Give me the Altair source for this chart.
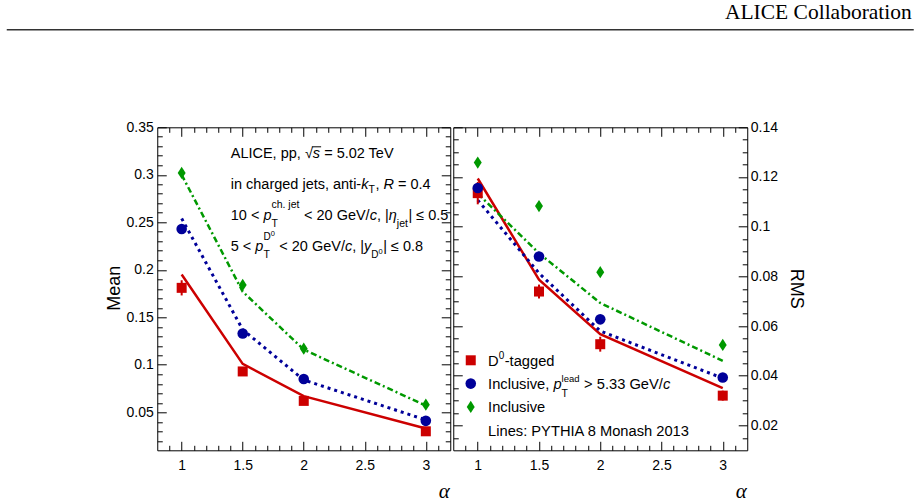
import altair as alt
import pandas as pd

# ---------------- data ----------------
alpha = [1.0, 1.5, 2.0, 3.0]

mean_d0 = [0.181, 0.093, 0.062, 0.030]
mean_d0_err = [0.008, 0.003, 0.003, 0.002]
mean_lead = [0.243, 0.133, 0.085, 0.041]
mean_incl = [0.302, 0.184, 0.117, 0.058]
mean_py_d0 = [0.195, 0.101, 0.067, 0.033]
mean_py_lead = [0.254, 0.137, 0.084, 0.042]
mean_py_incl = [0.300, 0.177, 0.116, 0.057]

rms_d0 = [0.1135, 0.0739, 0.0527, 0.0320]
rms_d0_err = [0.0045, 0.0028, 0.0030, 0.0020]
rms_lead = [0.1156, 0.0880, 0.0627, 0.0393]
rms_incl = [0.1258, 0.1083, 0.0817, 0.0524]
rms_py_d0 = [0.1194, 0.0787, 0.0567, 0.0350]
rms_py_lead = [0.1107, 0.0813, 0.0580, 0.0390]
rms_py_incl = [0.1133, 0.0893, 0.0693, 0.0460]

# tick values
x_major = [1, 1.5, 2, 2.5, 3]
x_minor = [0.9, 1.1, 1.2, 1.3, 1.4, 1.6, 1.7, 1.8, 1.9, 2.1, 2.2, 2.3, 2.4,
           2.6, 2.7, 2.8, 2.9, 3.1]
mean_major = [0.05, 0.1, 0.15, 0.2, 0.25, 0.3, 0.35]
mean_minor = [round(k / 100, 2) for k in range(2, 35) if k % 5]
rms_major = [0.02, 0.04, 0.06, 0.08, 0.1, 0.12, 0.14]
rms_minor = [round(k / 1000, 3) for k in range(15, 140, 5) if k % 20]

FONT = "Liberation Sans"
SERIF = "Liberation Serif"
RED, BLUE, GREEN = "#cc0000", "#000099", "#009900"

WL, WR, H = 293, 294, 323
XDOM = [0.8, 3.2]
XS = alt.Scale(domain=XDOM, nice=False, zero=False)

# ---------------- rich-text layout helper ----------------
CW = {' ': 278, ',': 278, '.': 278, '-': 333, '/': 278, ':': 278, '|': 260,
      '<': 584, '>': 584, '=': 584, '≤': 549, '√': 549, 'η': 556,
      'A': 667, 'C': 722, 'D': 722, 'E': 667, 'G': 778, 'H': 722, 'I': 278,
      'L': 556, 'M': 833, 'P': 667, 'R': 722, 'S': 667, 'T': 611, 'V': 667,
      'Y': 667, 'a': 556, 'b': 556, 'c': 500, 'd': 556, 'e': 556, 'g': 556,
      'h': 556, 'i': 222, 'j': 222, 'k': 500, 'l': 222, 'n': 556, 'o': 556,
      'p': 556, 'r': 333, 's': 500, 't': 278, 'u': 556, 'v': 500, 'y': 500}


def tw(s, fs):
    return sum(CW.get(c, 556) for c in s) / 1000.0 * fs


def seg(out, text, x, y, fs, it):
    lead = len(text) - len(text.lstrip(' '))
    t = text.strip(' ')
    if t:
        out.append(dict(text=t, x=x + tw(' ' * lead, fs), y=y, size=fs, it=it))
    return x + tw(text, fs)


def layout(parts, x0, base, fs, sup_dy, sub_dy):
    out = []
    x = x0
    for p in parts:
        if p[0] in ('n', 'i'):
            x = seg(out, p[1], x, base, fs, p[0] == 'i')
        else:
            wmax = 0
            for lst, dy in ((p[1], sup_dy), (p[2], sub_dy)):
                xx = x
                for (t, ddy, s) in lst:
                    xx = seg(out, t, xx, base + dy + ddy, s, False)
                wmax = max(wmax, xx - x)
            x += wmax + 0.5
    return out


F, FS, FSS = 14.5, 10.5, 7.5
TX0 = 73.5
info = []
info += layout([('n', 'ALICE, pp, '), ('n', '√'), ('i', 's'), ('n', ' = 5.02 TeV')],
               TX0, 31, F, -12, 7)
info += layout([('n', 'in charged jets, anti-'), ('i', 'k'), ('st', [], [('T', 0, FS)]),
                ('n', ', '), ('i', 'R'), ('n', ' = 0.4')], TX0, 62, F, -12, 4)
info += layout([('n', '10 < '), ('i', 'p'),
                ('st', [('ch. jet', 0, FS)], [('T', 0, FS)]),
                ('n', ' < 20 GeV/'), ('i', 'c'), ('n', ', |'), ('i', 'η'),
                ('st', [], [('jet', 0, FS)]), ('n', '| ≤ 0.5')], TX0, 93, F, -12, 7)
info += layout([('n', '5 < '), ('i', 'p'),
                ('st', [('D', 0, 10), ('0', -4, FSS)], [('T', 0, FS)]),
                ('n', ' < 20 GeV/'), ('i', 'c'), ('n', ', |'), ('i', 'y'),
                ('st', [], [('D', 0, 10), ('0', -4, FSS)]), ('n', '| ≤ 0.8')],
               TX0, 124, F, -11, 7)

# overline of the square root (over the italic s)
sq_x0 = TX0 + tw('ALICE, pp, ', F) + tw('√', F) - 1.0
sq_x1 = sq_x0 + tw('s', F) + 2.0

FL = 14.7
leg = []
leg += layout([('n', 'D'), ('st', [('0', 0, 10)], []), ('n', '-tagged')],
              34.8, 238.3, FL, -6.7, 8)
leg += layout([('n', 'Inclusive, '), ('i', 'p'),
               ('st', [('lead', 0, 9.5)], [('T', 0, FS)]),
               ('n', ' > 5.33 GeV/'), ('i', 'c')], 34.8, 261.6, FL, -6.6, 8.4)
leg += layout([('n', 'Inclusive')], 34.8, 285.0, FL, 0, 0)
leg += layout([('n', 'Lines: PYTHIA 8 Monash 2013')], 34.8, 308.3, FL, 0, 0)

dummy = pd.DataFrame({'k': [0]})


def text_layers(items):
    df = pd.DataFrame(items)
    layers = []
    for it, style in ((False, 'normal'), (True, 'italic')):
        sub = df[df['it'] == it]
        if len(sub):
            layers.append(
                alt.Chart(sub).mark_text(align='left', baseline='alphabetic', font=FONT,
                                         fontStyle=style, color='black').encode(
                    x=alt.X('x:Q', scale=None, axis=None),
                    y=alt.Y('y:Q', scale=None, axis=None),
                    size=alt.Size('size:Q', scale=None, legend=None),
                    text='text:N'))
    return layers


def tick_axis(orient, size, values):
    return alt.Axis(orient=orient, offset=-size, tickSize=size, values=values,
                    domain=False, grid=False, tickColor='black', tickWidth=1,
                    labels=False, title=None)


def make_panel(width, d0, d0err, lead, incl, pyd0, pylead, pyincl,
               ydom, ymaj, ymin, side, ytitle, tx, ty, extra):
    other = 'right' if side == 'left' else 'left'
    ys = alt.Scale(domain=ydom, nice=False, zero=False)
    xlab = alt.Axis(orient='bottom', offset=-9, tickSize=9, values=x_major, domain=False,
                    grid=False, tickColor='black', tickWidth=1, labels=True, format='~g',
                    labelFont=FONT, labelFontSize=14, labelColor='black', labelPadding=8,
                    labelFlush=False, labelOverlap=False,
                    title='α', titleFont=SERIF, titleFontStyle='italic',
                    titleFontWeight='normal', titleFontSize=21, titleColor='black',
                    titleAlign='right', titleBaseline='alphabetic',
                    titleX=width - 1, titleY=56)
    ylab = alt.Axis(orient=side, offset=-9, tickSize=9, values=ymaj, domain=False,
                    grid=False, tickColor='black', tickWidth=1, labels=True, format='~g',
                    labelFont=FONT, labelFontSize=14, labelColor='black',
                    labelPadding=4 if side == 'left' else 3, labelOverlap=False,
                    title=ytitle, titleFont=FONT, titleFontWeight='normal',
                    titleFontSize=18, titleColor='black',
                    titleAngle=270 if side == 'left' else 90,
                    titleAlign='center', titleBaseline='alphabetic', titleX=tx, titleY=ty)
    xa = [xlab, tick_axis('bottom', 5, x_minor), tick_axis('top', 9, x_major),
          tick_axis('top', 5, x_minor)]
    ya = [ylab, tick_axis(side, 5, ymin), tick_axis(other, 9, ymaj),
          tick_axis(other, 5, ymin)]

    df = pd.DataFrame({'alpha': alpha, 'd0': d0, 'err': d0err, 'lead': lead,
                       'incl': incl, 'pyd0': pyd0, 'pylead': pylead, 'pyincl': pyincl})
    base = alt.Chart(df)

    def X(a):
        return alt.X('alpha:Q', scale=XS, axis=a)

    def Y(f, a):
        return alt.Y(f + ':Q', scale=ys, axis=a)

    layers = [
        base.mark_line(color=RED, strokeWidth=2.5).encode(x=X(xa[0]), y=Y('pyd0', ya[0])),
        base.mark_line(color=BLUE, strokeWidth=3, strokeDash=[3, 4]).encode(
            x=X(xa[1]), y=Y('pylead', ya[1])),
        base.mark_line(color=GREEN, strokeWidth=2.5, strokeDash=[6, 3, 2, 3]).encode(
            x=X(xa[2]), y=Y('pyincl', ya[2])),
        base.transform_calculate(lo='datum.d0 - datum.err', hi='datum.d0 + datum.err')
            .mark_rule(color=RED, strokeWidth=2).encode(x=X(xa[3]), y=Y('lo', ya[3]),
                                                        y2='hi:Q'),
        base.mark_point(shape='square', filled=True, size=100, color=RED, opacity=1,
                        strokeWidth=0).encode(x=X(None), y=Y('d0', None)),
        base.mark_point(shape='circle', filled=True, size=112, color=BLUE, opacity=1,
                        strokeWidth=0).encode(x=X(None), y=Y('lead', None)),
        base.mark_point(shape='M0,-1L0.65,0L0,1L-0.65,0Z', filled=True, size=150,
                        color=GREEN, opacity=1, strokeWidth=0).encode(
            x=X(None), y=Y('incl', None)),
    ]
    layers += extra
    return alt.layer(*layers).properties(width=width, height=H).resolve_scale(
        x='shared', y='shared').resolve_axis(x='independent', y='independent')


HEADER_Y = -108.7
RULE_Y = -97.5
LEFT0 = 156.5

left_extra = text_layers(info) + [
    alt.Chart(dummy).mark_rule(color='black', strokeWidth=1).encode(
        x=alt.value(sq_x0), x2=alt.value(sq_x1), y=alt.value(31 - 11.5)),
    alt.Chart(dummy).mark_rule(color='#333333', strokeWidth=1.5).encode(
        x=alt.value(6 - LEFT0), x2=alt.value(913 - LEFT0), y=alt.value(RULE_Y)),
    alt.Chart(dummy).mark_text(text='ALICE Collaboration', font=SERIF, fontSize=21.5,
                               align='right', baseline='alphabetic', color='black').encode(
        x=alt.value(911 - LEFT0), y=alt.value(HEADER_Y)),
]

right_extra = text_layers(leg) + [
    alt.Chart(dummy).mark_point(shape='square', filled=True, size=100, color=RED,
                                opacity=1, strokeWidth=0).encode(
        x=alt.value(17.5), y=alt.value(233)),
    alt.Chart(dummy).mark_point(shape='circle', filled=True, size=112, color=BLUE,
                                opacity=1, strokeWidth=0).encode(
        x=alt.value(17.5), y=alt.value(256.3)),
    alt.Chart(dummy).mark_point(shape='M0,-1L0.65,0L0,1L-0.65,0Z', filled=True, size=150,
                                color=GREEN, opacity=1, strokeWidth=0).encode(
        x=alt.value(17.5), y=alt.value(279.7)),
]

left = make_panel(WL, mean_d0, mean_d0_err, mean_lead, mean_incl, mean_py_d0,
                  mean_py_lead, mean_py_incl, [0.01, 0.35], mean_major, mean_minor,
                  'left', 'Mean', -47.2, 160.5, left_extra)
right = make_panel(WR, rms_d0, rms_d0_err, rms_lead, rms_incl, rms_py_d0,
                   rms_py_lead, rms_py_incl, [0.01, 0.14], rms_major, rms_minor,
                   'right', 'RMS', 52.5, 161, right_extra)

chart = alt.hconcat(left, right, spacing=3, bounds='flush').properties(
    padding={'left': 5.25, 'top': 0.3, 'right': 2, 'bottom': 0},
    background='white',
).configure_view(stroke='black', strokeWidth=1)

chart.save("out.html", embed_options={"renderer": "svg", "actions": False})
